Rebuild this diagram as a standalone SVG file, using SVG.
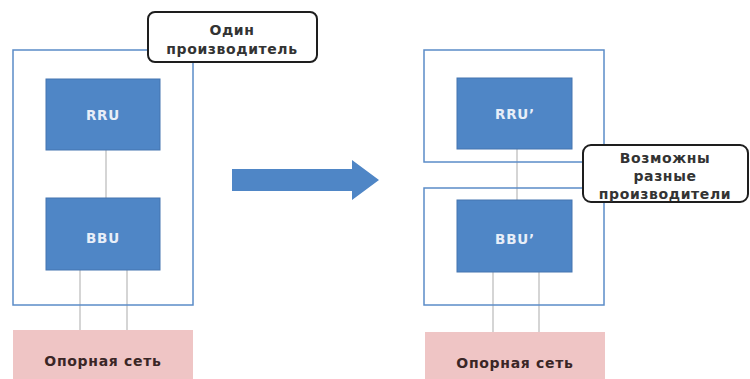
<svg xmlns="http://www.w3.org/2000/svg" width="750" height="379" viewBox="0 0 750 379">
  <style>
    .frame { fill: none; stroke: #5b8cc8; stroke-width: 1.5; }
    .unit { fill: #4f86c6; stroke: #4475b0; stroke-width: 1; }
    .unit-label { fill: #e8eef8; font-family: "DejaVu Sans", sans-serif; font-weight: bold; font-size: 13.5px; letter-spacing: 0.8px; text-anchor: middle; }
    .core { fill: #efc5c5; }
    .core-label { fill: #3a2626; font-family: "DejaVu Sans", sans-serif; font-weight: bold; font-size: 14px; letter-spacing: 0.7px; text-anchor: middle; }
    .link { stroke: #b9b9b9; stroke-width: 1.2; fill: none; }
    .callout { fill: #ffffff; stroke: #1e1e1e; stroke-width: 2; }
    .callout-label { fill: #333333; font-family: "DejaVu Sans", sans-serif; font-weight: bold; font-size: 14px; letter-spacing: 0.6px; text-anchor: middle; }
    .transition { fill: #4f86c6; }
  </style>

  <rect width="750" height="379" fill="#ffffff"/>

  <!-- connectors -->
  <g id="connectors">
    <line class="link" x1="106" y1="150" x2="106" y2="198"/>
    <line class="link" x1="80" y1="270" x2="80" y2="330"/>
    <line class="link" x1="127" y1="270" x2="127" y2="330"/>
    <line class="link" x1="517" y1="149" x2="517" y2="200"/>
    <line class="link" x1="493" y1="272" x2="493" y2="332"/>
    <line class="link" x1="539" y1="272" x2="539" y2="332"/>
  </g>

  <!-- single-vendor site -->
  <g id="site-single">
    <rect class="frame" x="13" y="50" width="180" height="255"/>
  </g>
  <g id="rru">
    <rect class="unit" x="46" y="79" width="114" height="71"/>
    <text class="unit-label" x="103" y="120">RRU</text>
  </g>
  <g id="bbu">
    <rect class="unit" x="46" y="198" width="114" height="72"/>
    <text class="unit-label" x="103" y="243">BBU</text>
  </g>
  <g id="core-left">
    <rect class="core" x="13" y="330" width="180" height="49"/>
    <text class="core-label" x="103" y="366">Опорная сеть</text>
  </g>
  <g id="note-single">
    <rect class="callout" x="148" y="12" width="169" height="50" rx="7"/>
    <text class="callout-label" x="232" y="35">Один</text>
    <text class="callout-label" x="232" y="54">производитель</text>
  </g>

  <!-- transition arrow -->
  <g id="arrow">
    <path class="transition" d="M232 169 H352 V160 L379 180 L352 200 V191 H232 Z"/>
  </g>

  <!-- multi-vendor site -->
  <g id="frame-rru">
    <rect class="frame" x="424" y="50" width="180" height="112"/>
  </g>
  <g id="frame-bbu">
    <rect class="frame" x="424" y="188" width="180" height="117"/>
  </g>
  <g id="rru-prime">
    <rect class="unit" x="457" y="78" width="115" height="71"/>
    <text class="unit-label" x="515" y="119">RRU’</text>
  </g>
  <g id="bbu-prime">
    <rect class="unit" x="457" y="200" width="115" height="72"/>
    <text class="unit-label" x="515" y="244">BBU’</text>
  </g>
  <g id="core-right">
    <rect class="core" x="425" y="332" width="180" height="47"/>
    <text class="core-label" x="515" y="368">Опорная сеть</text>
  </g>
  <g id="note-multi">
    <rect class="callout" x="583" y="145" width="165" height="57" rx="8"/>
    <text class="callout-label" x="665" y="163">Возможны</text>
    <text class="callout-label" x="665" y="181">разные</text>
    <text class="callout-label" x="665" y="199">производители</text>
  </g>
</svg>
